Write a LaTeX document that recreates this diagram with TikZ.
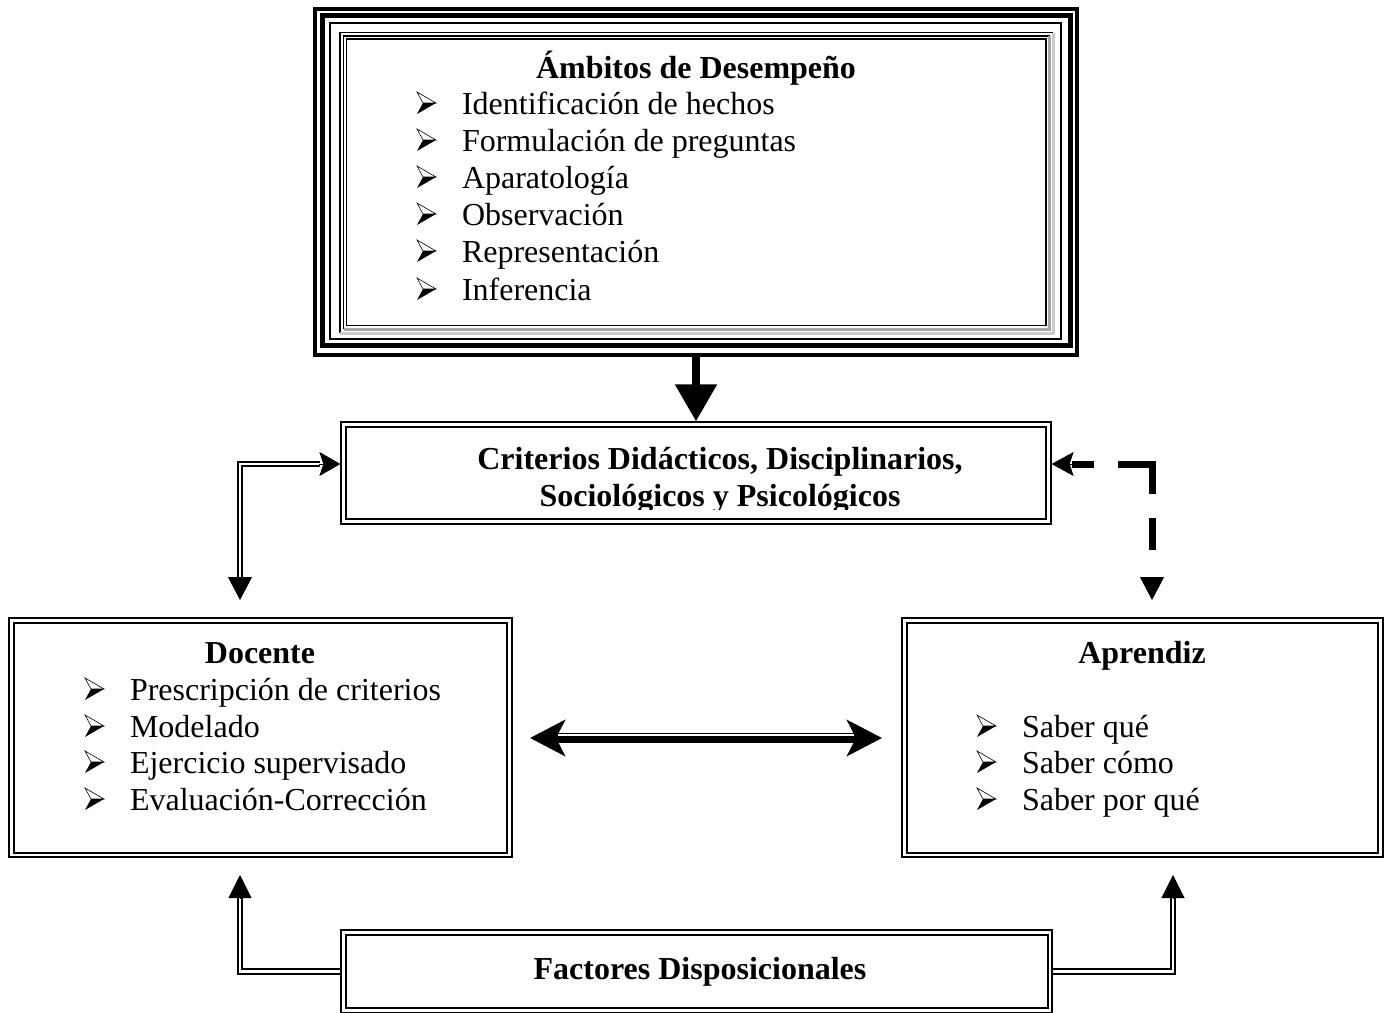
\documentclass[tikz,border=0pt]{standalone}
\usepackage{fontspec}
\setmainfont{Liberation Serif}
\usetikzlibrary{arrows.meta,calc}

\tikzset{
  txt/.style={font=\fontsize{32}{37}\selectfont, inner sep=0pt, outer sep=0pt},
  ttl/.style={txt, font=\fontsize{32}{37}\selectfont\bfseries, anchor=base},
  itm/.style={txt, anchor=base west},
  dbox/.style={draw, double, line width=1.8pt, double distance=2.6pt,
               inner sep=0pt, outer sep=3.1pt},
  dline/.style={draw, double, line width=1.7pt, double distance=2.8pt, line join=miter},
  stem/.style={line width=1pt},
  pics/bulletmark/.style={code={
    \filldraw[fill=white, draw=black, line width=0.6pt, line join=miter]
      (0,-11) -- (19,0) -- (6,0) -- cycle;
    \fill[black] (6,0) -- (19,0) -- (0,11) -- cycle;
  }},
}

\begin{document}
\begin{tikzpicture}[x=1pt, y=-1pt]
\useasboundingbox (0,0) rectangle (1384,1012);
\fill[white] (0,0) rectangle (1384,1012);

% ---------- Ámbitos de Desempeño: framed box ----------
\node[minimum width=766pt, minimum height=350pt, inner sep=0pt, outer sep=0pt]
  (amb) at (696,182) {};
\draw[line width=4pt]   (315,9)     rectangle (1077,355);
\draw[line width=5pt]   (322.5,15.5) rectangle (1070,345);
\draw[line width=2pt]   (329.5,23)  rectangle (1060.5,338.5);
\draw[line width=1.3pt] (340,333) -- (340,32.5) -- (1053,32.5);
\draw[gray!40, line width=3pt] (340,333) -- (1053,333) -- (1053,32.5);
\draw[line width=1.3pt] (343.5,329) -- (343.5,36) -- (1049.5,36);
\draw[gray!70, line width=3pt] (343.5,329) -- (1049.5,329) -- (1049.5,36);
\draw[line width=1.5pt] (346.5,39) rectangle (1046,325.5);

\node[ttl] (ambt) at (696,78) {Ámbitos de Desempeño};
\foreach \y/\t [count=\i] in {114/Identificación de hechos,
                              151/Formulación de preguntas,
                              188/Aparatología,
                              225/Observación,
                              262/Representación,
                              300/Inferencia}{
  \pic at (417,\y-11) {bulletmark};
  \node[itm] (amb\i) at (462,\y) {\t};
}

% ---------- Criterios ----------
\node[dbox, minimum width=705pt, minimum height=97pt] (crit) at (696,473) {};
\begin{scope}
  % the text frame cuts off the descenders of the second line
  \clip (347,428) rectangle (1045,509.5);
  \node[ttl] (crit1) at (720,469) {Criterios Didácticos, Disciplinarios,};
  \node[ttl] (crit2) at (720,506) {Sociológicos y Psicológicos};
\end{scope}

% ---------- Docente ----------
\node[dbox, minimum width=498pt, minimum height=234.5pt] (doc) at (260.5,737.75) {};
\node[ttl] (doct) at (260,663) {Docente};
\foreach \y/\t [count=\i] in {700/Prescripción de criterios,
                              737/Modelado,
                              773/Ejercicio supervisado,
                              810/Evaluación-Corrección}{
  \pic at (85,\y-11) {bulletmark};
  \node[itm] (doc\i) at (130,\y) {\t};
}

% ---------- Aprendiz ----------
\node[dbox, minimum width=476pt, minimum height=234.5pt] (apr) at (1142.5,737.75) {};
\node[ttl] (aprt) at (1142,663) {Aprendiz};
\foreach \y/\t [count=\i] in {737/Saber qué,
                              773/Saber cómo,
                              810/Saber por qué}{
  \pic at (977,\y-11) {bulletmark};
  \node[itm] (apr\i) at (1022,\y) {\t};
}

% ---------- Factores Disposicionales ----------
\node[dbox, minimum width=706.5pt, minimum height=78pt] (fac) at (696.75,971.5) {};
\node[ttl] (fact) at (700,979) {Factores Disposicionales};

% ---------- connectors ----------
% thick arrow down into the criteria box
\draw[line width=8pt, -{Triangle[length=37pt, width=40pt]}] (amb.south) -- (crit.north);

% criteria <-> docente (double line)
\coordinate (lk) at (240,464);
\coordinate (docin) at (240,600);
\draw[dline] ($(crit.west |- lk)+(-20,0)$) -- (lk) -- ($(docin)+(0,-23)$);
\draw[stem, -{Stealth[length=21pt, width=24pt, inset=4pt]}]
  ($(crit.west |- lk)+(-21,0)$) -- (crit.west |- lk);
\draw[stem, -{Triangle[length=23pt, width=24pt]}] ($(docin)+(0,-23)$) -- (docin);

% criteria <-> aprendiz (dashed)
\coordinate (rk) at (1152,464);
\coordinate (aprin) at (1152,600);
\draw[line width=7pt, line join=miter,
      dash pattern=on 22.4pt off 24pt on 64pt off 24pt on 32pt off 30pt]
  ($(crit.east |- rk)+(20,0)$) -- (rk) -- ($(aprin)+(0,-23)$);
\draw[stem, -{Stealth[length=22pt, width=24pt, inset=4pt]}]
  ($(crit.east |- rk)+(22,0)$) -- (crit.east |- rk);
\draw[stem, -{Triangle[length=23pt, width=24pt]}] ($(aprin)+(0,-23)$) -- (aprin);

% docente <-> aprendiz
\coordinate (mL) at (530,738);
\coordinate (mR) at (882,738);
\draw[line width=10.5pt,
      {Stealth[length=35pt, width=36pt, inset=9pt]}-{Stealth[length=35pt, width=36pt, inset=9pt]}]
  (mL) -- (mR);
\draw[white, line width=1.5pt] ($(mL)+(28,-3.2)$) -- ($(mR)+(-28,-3.2)$);

% factores -> docente / aprendiz
\coordinate (bl) at (240,971.5);
\coordinate (docup) at (240,875);
\draw[dline] (fac.west |- bl) -- (bl) -- ($(docup)+(0,23)$);
\draw[stem, -{Triangle[length=23pt, width=23pt]}] ($(docup)+(0,23)$) -- (docup);

\coordinate (br) at (1173,971.5);
\coordinate (aprup) at (1173,875);
\draw[dline] (fac.east |- br) -- (br) -- ($(aprup)+(0,23)$);
\draw[stem, -{Triangle[length=23pt, width=23pt]}] ($(aprup)+(0,23)$) -- (aprup);
\end{tikzpicture}
\end{document}
